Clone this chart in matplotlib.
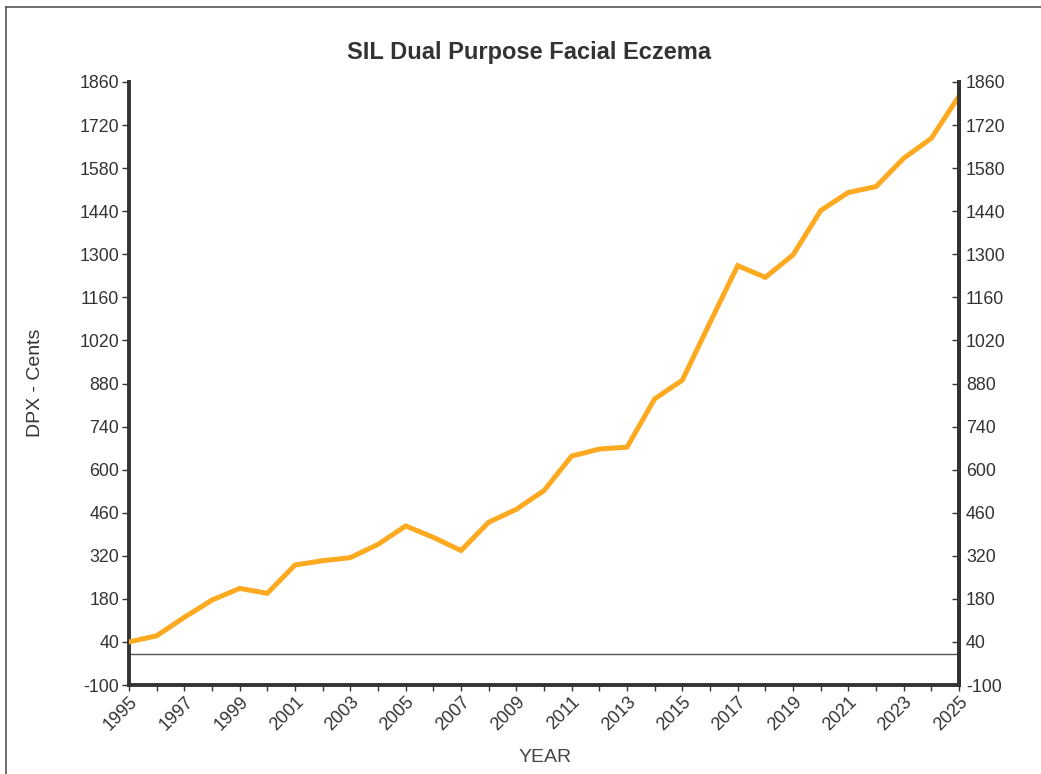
import matplotlib
matplotlib.use("Agg")
import matplotlib.pyplot as plt
from matplotlib.lines import Line2D

years = list(range(1995, 2026))
dpx_cents = [40, 60, 120, 176, 214, 198, 290, 304, 314, 357, 417, 380, 337, 429, 471,
             532, 644, 667, 673, 830, 891, 1078, 1263, 1225, 1298, 1442, 1501, 1520,
             1612, 1677, 1814]
y_ticks = list(range(-100, 1861, 140))
x_tick_labels = [str(y) if (y - 1995) % 2 == 0 else '' for y in years]

title = "SIL Dual Purpose Facial Eczema"
ylabel = "DPX - Cents"
xlabel = "YEAR"

plt.rcParams['font.family'] = ['Liberation Sans', 'DejaVu Sans']

W, H = 1041, 774
fig = plt.figure(figsize=(W / 100, H / 100), dpi=100)
ax = fig.add_axes([129 / W, 1 - 685 / H, (959 - 129) / W, (685 - 82) / H])

text_col = '#333333'
spine_col = '#333333'

ax.plot(years, dpx_cents, color='#FDAA21', lw=3.6, solid_joinstyle='miter', zorder=3)
ax.axhline(0, color='#555555', lw=1.0, zorder=2)

ax.set_xlim(1995, 2025)
ax.set_ylim(-100, 1860)
ax.set_yticks(y_ticks)
ax.set_yticklabels([str(v) for v in y_ticks])
ax.set_xticks(years)
ax.set_xticklabels(x_tick_labels, rotation=45, ha='right', rotation_mode='anchor')

ax.spines['top'].set_visible(False)
for s in ['left', 'bottom', 'right']:
    ax.spines[s].set_linewidth(2.8)
    ax.spines[s].set_color(spine_col)

ax.tick_params(axis='y', direction='out', length=5, width=1.0, color=spine_col,
               labelsize=12.8, labelcolor=text_col, pad=2)
ax.tick_params(axis='x', direction='out', length=4, width=1.0, color=spine_col,
               labelsize=13, labelcolor=text_col, pad=2)

ax2 = ax.twinx()
ax2.set_ylim(-100, 1860)
ax2.set_yticks(y_ticks)
ax2.set_yticklabels([str(v) for v in y_ticks])
ax2.tick_params(axis='y', direction='in', length=5, width=1.0, color=spine_col,
                labelsize=12.8, labelcolor=text_col, pad=5)
for s in ['top', 'left', 'bottom']:
    ax2.spines[s].set_visible(False)
ax2.spines['right'].set_linewidth(2.8)
ax2.spines['right'].set_color(spine_col)

fig.text(529 / W, 1 - 52 / H, title, ha='center', va='center', fontsize=17,
         fontweight='bold', color=text_col)
fig.text(35 / W, 1 - 383 / H, ylabel, ha='center', va='center', rotation=90,
         fontsize=14, color=text_col)
fig.text(545 / W, 1 - 757 / H, xlabel, ha='center', va='center',
         fontsize=14, color='#444444')

# outer frame
fig.add_artist(Line2D([6 / W, 6 / W], [0, 1 - 7 / H], color='#555555', lw=1.2,
                      transform=fig.transFigure))
fig.add_artist(Line2D([6 / W, 1], [1 - 7 / H, 1 - 7 / H], color='#555555', lw=1.2,
                      transform=fig.transFigure))

fig.savefig('out.png', dpi=100)
